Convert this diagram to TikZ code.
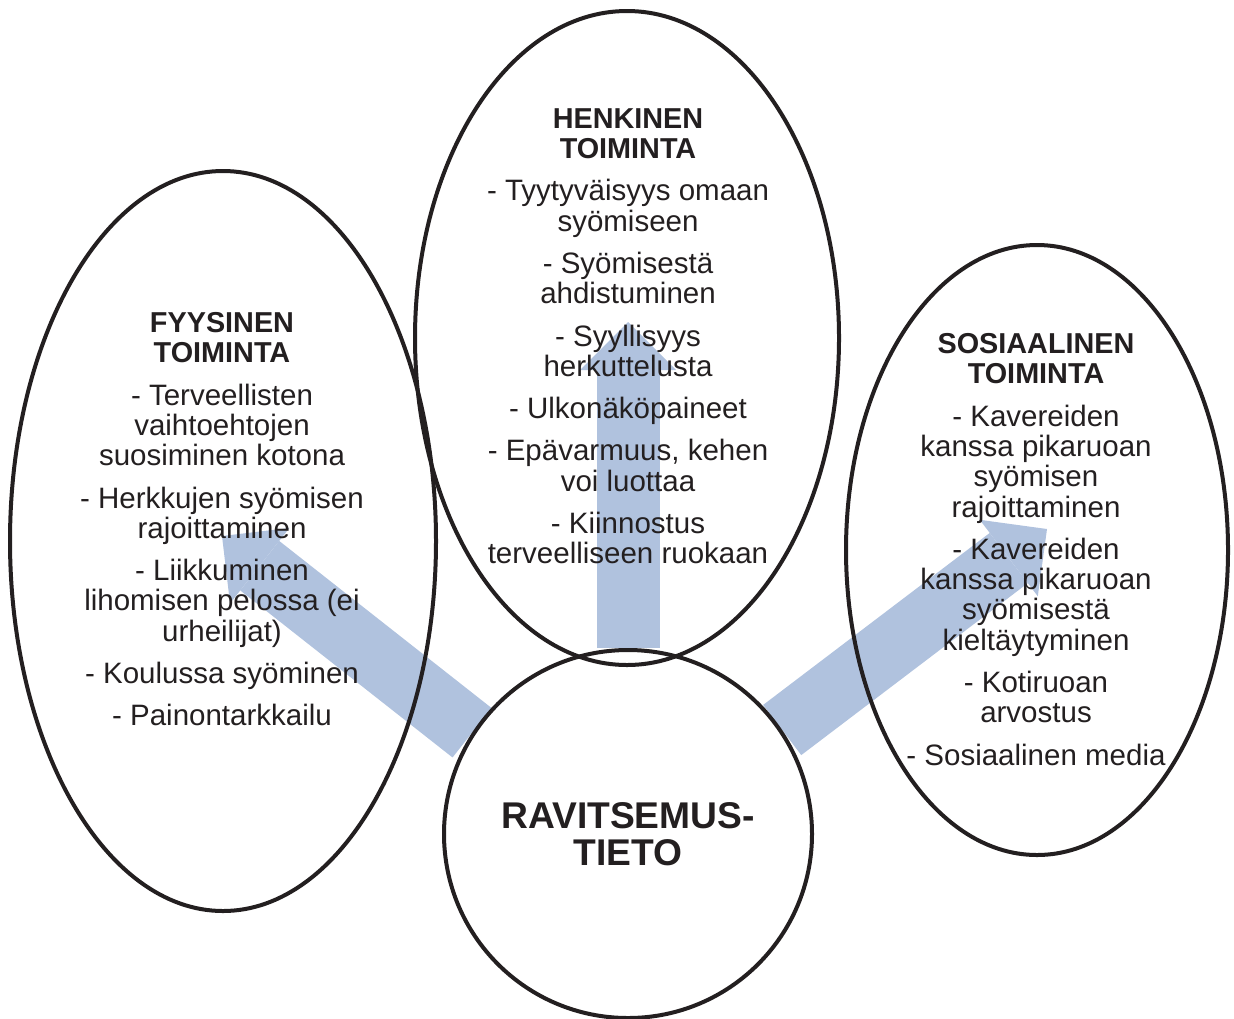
\documentclass[tikz,border=0pt]{standalone}
\usepackage{fontspec}
\setmainfont{Liberation Sans}
\usepackage{tikz, xcolor}
\usetikzlibrary{arrows.meta, shapes.geometric}

\definecolor{viiva}{RGB}{35,31,32}
\definecolor{nuolisininen}{RGB}{176,194,222}
\newcommand{\otsikko}[1]{{\bfseries\fontsize{14.4}{15.15}\selectfont #1}}
\pgfdeclarelayer{tausta}
\pgfsetlayers{tausta,main}

\begin{document}
\begin{tikzpicture}
					[
						x=0.5pt, y=-0.5pt,
						kupla/.style={ellipse, draw=viiva, line width=2pt, inner sep=0pt},
						teksti/.style={align=center, inner sep=0pt, anchor=north, text=viiva, font=\fontsize{14.75}{15.15}\selectfont},
						nuoli/.style={nuolisininen, line width=31.5pt, -{Triangle[width=48pt, length=24pt, line width=0pt]}}
					]
					\useasboundingbox (0,0) rectangle (1234,1018);

					% Draw ellipses and the circle.
					\node[kupla, minimum width=213pt, minimum height=370pt] (fyysinen) at (223,541) {};
					\node[kupla, minimum width=212pt, minimum height=327pt] (henkinen) at (627,338) {};
					\node[kupla, minimum width=191pt, minimum height=305pt] (sosiaalinen) at (1037,550) {};
					\node[circle, draw=viiva, line width=2pt, minimum size=184pt, inner sep=0pt, align=center,
						text=viiva, font=\bfseries\fontsize{18.6}{18.5}\selectfont] (tieto) at (628,834) {RAVITSEMUS-\\TIETO};

					% Draw texts.
					\node[teksti] (fyysTeksti) at (222,312) {\otsikko{FYYSINEN}\\ \otsikko{TOIMINTA}\\[6pt]
						- Terveellisten\\ vaihtoehtojen\\ suosiminen kotona\\[6pt]
						- Herkkujen syömisen\\ rajoittaminen\\[6pt]
						- Liikkuminen\\ lihomisen pelossa (ei\\ urheilijat)\\[6pt]
						- Koulussa syöminen\\[6pt]
						- Painontarkkailu};
					\node[teksti] (henkTeksti) at (628,108) {\otsikko{HENKINEN}\\ \otsikko{TOIMINTA}\\[6pt]
						- Tyytyväisyys omaan\\ syömiseen\\[6pt]
						- Syömisestä\\ ahdistuminen\\[6pt]
						- Syyllisyys\\ herkuttelusta\\[6pt]
						- Ulkonäköpaineet\\[6pt]
						- Epävarmuus, kehen\\ voi luottaa\\[6pt]
						- Kiinnostus\\ terveelliseen ruokaan};
					\node[teksti] (sosTeksti) at (1036,333) {\otsikko{SOSIAALINEN}\\ \otsikko{TOIMINTA}\\[6pt]
						- Kavereiden\\ kanssa pikaruoan\\ syömisen\\ rajoittaminen\\[6pt]
						- Kavereiden\\ kanssa pikaruoan\\ syömisestä\\ kieltäytyminen\\[6pt]
						- Kotiruoan\\ arvostus\\[6pt]
						- Sosiaalinen media};

					% Draw arrows behind everything.
					\coordinate (fyysKarki) at (222,536);
					\coordinate (henkKarki) at (628,322);
					\coordinate (sosKarki) at (1047,529);
					\begin{pgfonlayer}{tausta}
						\draw[nuoli] (tieto.147) -- (fyysKarki);
						\draw[nuoli] (tieto.north) -- (henkKarki);
						\draw[nuoli] (tieto.34) -- (sosKarki);
					\end{pgfonlayer}
				\end{tikzpicture}
\end{document}
